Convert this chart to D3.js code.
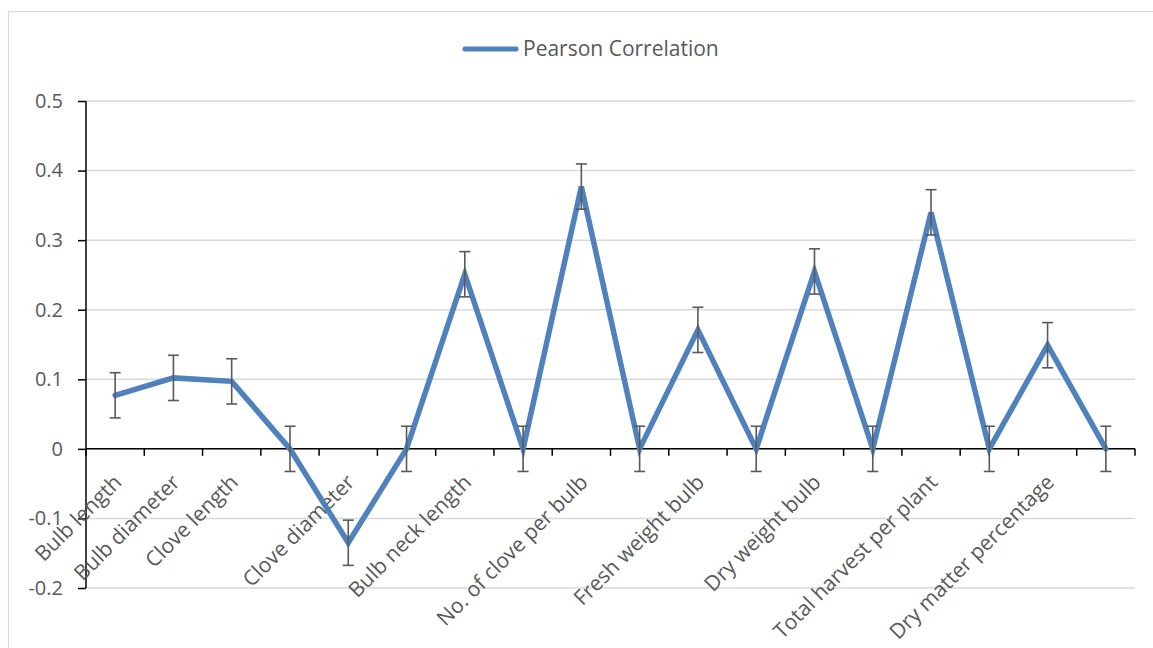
<!DOCTYPE html>
<html>
<head>
<meta charset="utf-8">
<script src="https://cdn.jsdelivr.net/npm/d3@7/dist/d3.min.js"></script>
<style>
  html, body { margin: 0; padding: 0; background: #fff; }
  svg { display: block; }
  text { font-family: "Open Sans", Lato, sans-serif; fill: #595959; }
</style>
</head>
<body>
<svg id="chart" width="1153" height="648"></svg>
<script>
// Trait categories along the x axis (blank ones are spacer points at zero)
const categories = [
  "Bulb length", "Bulb diameter", "Clove length", "", "Clove diameter", "",
  "Bulb neck length", "", "No. of clove per bulb", "", "Fresh weight bulb", "",
  "Dry weight bulb", "", "Total harvest per plant", "", "Dry matter percentage", ""
];
// Pearson correlation per category
const correlation = [
  0.077, 0.102, 0.097, 0, -0.135, 0,
  0.251, 0, 0.377, 0, 0.171, 0,
  0.255, 0, 0.340, 0, 0.149, 0
];
// Error bar half-widths
const errorMargin = [
  0.0325, 0.0325, 0.0325, 0.0325, 0.0325, 0.0325,
  0.0325, 0.0325, 0.0325, 0.0325, 0.0325, 0.0325,
  0.0325, 0.0325, 0.0325, 0.0325, 0.0325, 0.0325
];
const yTicks = [-0.2, -0.1, 0, 0.1, 0.2, 0.3, 0.4, 0.5];
const seriesName = "Pearson Correlation";

const svg = d3.select("#chart");
const plot = { left: 86, right: 1135, top: 101, bottom: 588 };

// outer chart frame
svg.append("rect")
  .attr("x", 8.5).attr("y", 11.5)
  .attr("width", 1153).attr("height", 700)
  .attr("fill", "none").attr("stroke", "#d9d9d9").attr("stroke-width", 1.2);

const x = d3.scaleBand()
  .domain(d3.range(categories.length))
  .range([plot.left, plot.right])
  .padding(0);
const y = d3.scaleLinear()
  .domain([-0.2, 0.5])
  .range([plot.bottom, plot.top]);

// horizontal gridlines
svg.append("g")
  .selectAll("line")
  .data(yTicks)
  .join("line")
  .attr("x1", plot.left).attr("x2", plot.right)
  .attr("y1", d => y(d)).attr("y2", d => y(d))
  .attr("stroke", "#d9d9d9").attr("stroke-width", 1.5);

// y axis (plain hyphen for negatives)
const yAxis = d3.axisLeft(y)
  .tickValues(yTicks)
  .tickSize(8)
  .tickPadding(15)
  .tickFormat(d => String(+d.toFixed(1)));
const gy = svg.append("g")
  .attr("transform", `translate(${plot.left},0)`)
  .call(yAxis);
gy.select(".domain").attr("stroke", "#000").attr("stroke-width", 1.5)
  .attr("d", `M0,${plot.top}V${plot.bottom}`);
gy.selectAll(".tick line").attr("stroke", "#000").attr("stroke-width", 1.5);
gy.selectAll(".tick text")
  .style("font-family", "'Open Sans', Lato, sans-serif")
  .style("font-size", "20px").attr("fill", "#595959");

// x axis at zero with ticks between categories
const y0 = y(0);
const gx = svg.append("g");
gx.append("line")
  .attr("x1", plot.left).attr("x2", plot.right)
  .attr("y1", y0).attr("y2", y0)
  .attr("stroke", "#000").attr("stroke-width", 1.5);
const boundaries = d3.range(categories.length + 1).map(i =>
  i < categories.length ? x(i) : x(categories.length - 1) + x.bandwidth());
gx.selectAll("line.tick")
  .data(boundaries)
  .join("line")
  .attr("class", "tick")
  .attr("x1", d => d).attr("x2", d => d)
  .attr("y1", y0).attr("y2", y0 + 7)
  .attr("stroke", "#000").attr("stroke-width", 1.5);

// rotated category labels
const cx = i => x(i) + x.bandwidth() / 2;
gx.selectAll("text")
  .data(categories.map((c, i) => ({ c, i })).filter(d => d.c))
  .join("text")
  .attr("transform", d => `translate(${cx(d.i) - 3},${y0 + 24}) rotate(-45)`)
  .attr("text-anchor", "end")
  .attr("dy", "0.72em")
  .style("font-size", "21px")
  .text(d => d.c);

// correlation line
const line = d3.line().x((d, i) => cx(i)).y(d => y(d));
svg.append("path")
  .datum(correlation)
  .attr("d", line)
  .attr("fill", "none")
  .attr("stroke", "#4f81bd")
  .attr("stroke-width", 5.5)
  .attr("stroke-linejoin", "miter")
  .attr("stroke-linecap", "round");

// error bars, drawn over the line
const eb = svg.append("g").attr("stroke", "#595959").attr("stroke-width", 1.6);
correlation.forEach((v, i) => {
  const hi = y(v + errorMargin[i]), lo = y(v - errorMargin[i]), px = cx(i);
  eb.append("line").attr("x1", px).attr("x2", px).attr("y1", hi).attr("y2", lo);
  eb.append("line").attr("x1", px - 5.5).attr("x2", px + 5.5).attr("y1", hi).attr("y2", hi);
  eb.append("line").attr("x1", px - 5.5).attr("x2", px + 5.5).attr("y1", lo).attr("y2", lo);
});

// legend
const lg = svg.append("g");
lg.append("line")
  .attr("x1", 465).attr("x2", 516).attr("y1", 49).attr("y2", 49)
  .attr("stroke", "#4f81bd").attr("stroke-width", 5).attr("stroke-linecap", "round");
lg.append("text")
  .attr("x", 523).attr("y", 56)
  .style("font-size", "21px")
  .text(seriesName);
</script>
</body>
</html>
